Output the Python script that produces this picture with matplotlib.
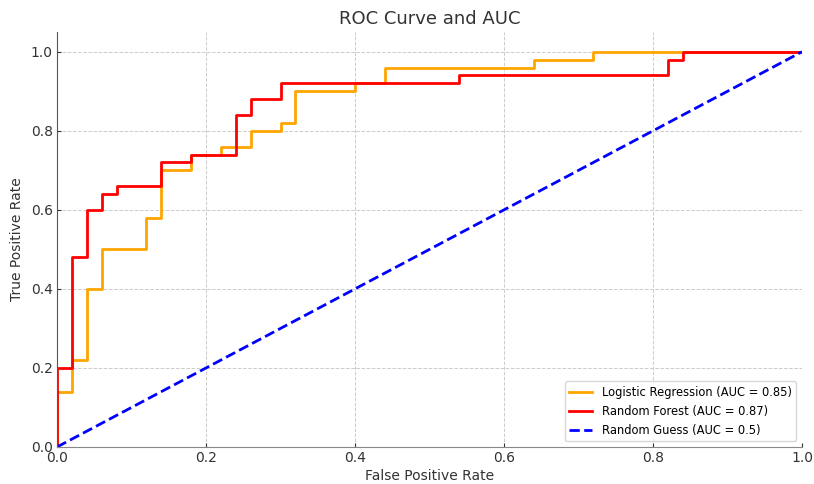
import matplotlib
matplotlib.use("Agg")
import matplotlib.pyplot as plt

# Logistic Regression ROC points
lr_fpr = [0.0, 0.0, 0.02, 0.02, 0.04, 0.04, 0.06, 0.06, 0.12, 0.12, 0.14, 0.14,
          0.18, 0.18, 0.22, 0.22, 0.26, 0.26, 0.30, 0.30, 0.32, 0.32, 0.40, 0.40,
          0.44, 0.44, 0.64, 0.64, 0.72, 0.72, 1.0]
lr_tpr = [0.0, 0.14, 0.14, 0.22, 0.22, 0.40, 0.40, 0.50, 0.50, 0.58, 0.58, 0.70,
          0.70, 0.74, 0.74, 0.76, 0.76, 0.80, 0.80, 0.82, 0.82, 0.90, 0.90, 0.92,
          0.92, 0.96, 0.96, 0.98, 0.98, 1.0, 1.0]

# Random Forest ROC points
rf_fpr = [0.0, 0.0, 0.02, 0.02, 0.04, 0.04, 0.06, 0.06, 0.08, 0.08, 0.14, 0.14,
          0.18, 0.18, 0.24, 0.24, 0.26, 0.26, 0.30, 0.30, 0.54, 0.54, 0.82, 0.82,
          0.84, 0.84, 1.0]
rf_tpr = [0.0, 0.20, 0.20, 0.48, 0.48, 0.60, 0.60, 0.64, 0.64, 0.66, 0.66, 0.72,
          0.72, 0.74, 0.74, 0.84, 0.84, 0.88, 0.88, 0.92, 0.92, 0.94, 0.94, 0.98,
          0.98, 1.0, 1.0]

guess_x = [0.0, 1.0]
guess_y = [0.0, 1.0]

labels = ["Logistic Regression (AUC = 0.85)",
          "Random Forest (AUC = 0.87)",
          "Random Guess (AUC = 0.5)"]

fig = plt.figure(figsize=(8.14, 4.84), dpi=100)
ax = fig.add_axes([57 / 814, 1 - 447 / 484, 745 / 814, 415 / 484])

ax.plot(lr_fpr, lr_tpr, color="orange", lw=2, label=labels[0])
ax.plot(rf_fpr, rf_tpr, color="red", lw=2, label=labels[1])
ax.plot(guess_x, guess_y, color="blue", lw=2, linestyle="--", label=labels[2])

ax.set_xlim(0, 1)
ax.set_ylim(0, 1.05)
ax.set_title("ROC Curve and AUC", fontsize=13, color="#333333")
ax.set_xlabel("False Positive Rate", fontsize=10, color="#333333", labelpad=3)
ax.set_ylabel("True Positive Rate", fontsize=10, color="#333333", labelpad=5)
ax.grid(True, linestyle="--", color="#cccccc", lw=0.7)
ax.set_axisbelow(True)
for s in ["top", "right"]:
    ax.spines[s].set_visible(False)
ax.spines["left"].set_color("#555555")
ax.spines["bottom"].set_color("#888888")
ax.tick_params(colors="#333333", direction="in", length=3, pad=3, labelsize=10)
leg = ax.legend(loc="lower right", fontsize=8.3)
leg.get_frame().set_edgecolor("#cccccc")

fig.savefig("out.png", dpi=100)
